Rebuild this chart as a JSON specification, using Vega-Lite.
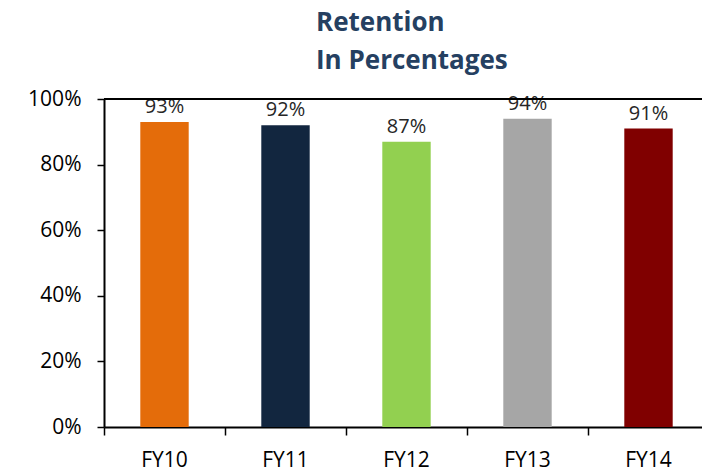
{
  "$schema": "https://vega.github.io/schema/vega-lite/v6.json",
  "autosize": {"type": "none"},
  "padding": {"left": 104, "top": 99, "right": 0, "bottom": 48},
  "width": 598,
  "height": 328,
  "background": "white",
  "title": {
    "text": ["Retention", "In Percentages"],
    "anchor": "start",
    "frame": "group",
    "dx": 212,
    "offset": 14,
    "font": "Open Sans",
    "fontSize": 26,
    "fontWeight": "bold",
    "color": "#254061",
    "lineHeight": 38
  },
  "data": {
    "values": [
      {"year": "FY10", "value": 0.93},
      {"year": "FY11", "value": 0.92},
      {"year": "FY12", "value": 0.87},
      {"year": "FY13", "value": 0.94},
      {"year": "FY14", "value": 0.91}
    ]
  },
  "layer": [
    {
      "mark": {"type": "bar", "width": {"band": 0.4}},
      "encoding": {
        "x": {
          "field": "year",
          "type": "ordinal",
          "sort": null,
          "scale": {"paddingInner": 0, "paddingOuter": 0, "range": [0, 605]},
          "axis": {
            "title": null,
            "labelAngle": 0,
            "labelFont": "Open Sans",
            "labelFontSize": 21,
            "labelColor": "#000000",
            "labelPadding": 14,
            "domainColor": "#000000",
            "domainWidth": 2,
            "tickColor": "#000000",
            "tickWidth": 1.5,
            "tickSize": 8,
            "bandPosition": 0,
            "grid": false
          }
        },
        "y": {
          "field": "value",
          "type": "quantitative",
          "scale": {"domain": [0, 1]},
          "axis": {
            "title": null,
            "values": [0, 0.2, 0.4, 0.6, 0.8, 1],
            "format": ".0%",
            "labelFont": "Open Sans",
            "labelFontSize": 21,
            "labelColor": "#000000",
            "labelPadding": 16,
            "domainColor": "#000000",
            "domainWidth": 2,
            "tickColor": "#000000",
            "tickWidth": 1.5,
            "tickSize": 7,
            "grid": false
          }
        },
        "color": {
          "field": "year",
          "type": "nominal",
          "sort": null,
          "scale": {
            "domain": ["FY10", "FY11", "FY12", "FY13", "FY14"],
            "range": ["#E46C0A", "#12263F", "#92D050", "#A6A6A6", "#800000"]
          },
          "legend": null
        }
      }
    },
    {
      "mark": {"type": "text", "baseline": "alphabetic", "dy": -9, "font": "Open Sans", "fontSize": 20, "color": "#262626"},
      "encoding": {
        "x": {"field": "year", "type": "ordinal", "sort": null},
        "y": {"field": "value", "type": "quantitative"},
        "text": {"field": "value", "type": "quantitative", "format": ".0%"}
      }
    },
    {
      "mark": {"type": "rule", "color": "#000000", "strokeWidth": 1.5},
      "encoding": {"y": {"datum": 1}}
    }
  ]
}
